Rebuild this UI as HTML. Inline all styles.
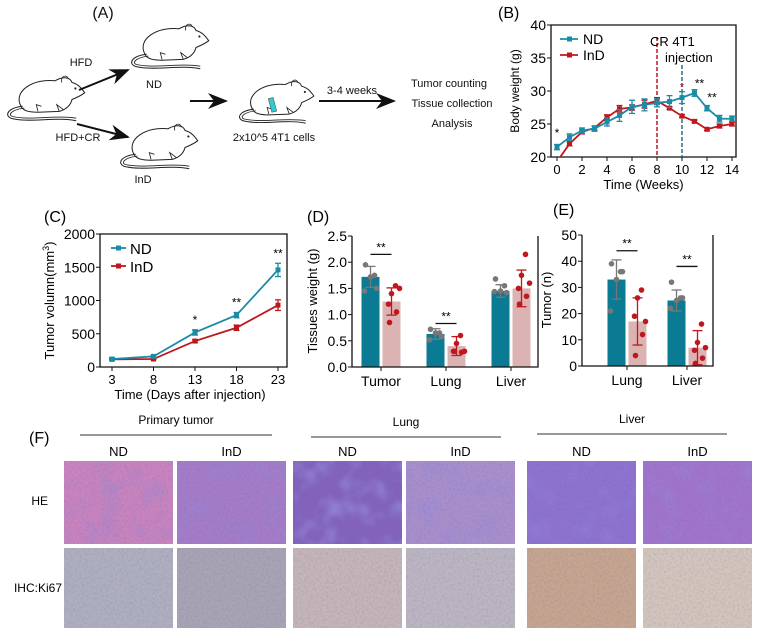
<!DOCTYPE html>
<html><head><meta charset="utf-8">
<style>
body{margin:0;background:#fff;}
svg{display:block;font-family:"Liberation Sans",Arial,sans-serif;}
</style></head>
<body>
<svg id="fig" width="777" height="630" viewBox="0 0 777 630" xmlns="http://www.w3.org/2000/svg">
<defs>
<filter id="tex" x="0" y="0" width="100%" height="100%">
<feTurbulence type="fractalNoise" baseFrequency="0.45" numOctaves="2" seed="3"/>
<feColorMatrix type="matrix" values="0 0 0 0 0.15  0 0 0 0 0.1  0 0 0 0 0.3  0 0 0 -1.8 1.1"/>
</filter>
<filter id="tex2" x="0" y="0" width="100%" height="100%">
<feTurbulence type="fractalNoise" baseFrequency="0.05" numOctaves="2" seed="7"/>
<feColorMatrix type="matrix" values="0 0 0 0 0.3  0 0 0 0 0.25  0 0 0 0 0.7  0 0 0 -2.2 1.2"/>
</filter>
<marker id="ah" markerWidth="10" markerHeight="8" refX="9" refY="4" orient="auto"><path d="M0,0 L10,4 L0,8 L3,4 Z" fill="#111"/></marker>
</defs>
<g id="panelA"></g>
<g id="panelB"></g>
<g id="panelC"></g>
<g id="panelD"></g>
<g id="panelE"></g>
<g id="panelF"></g>
</svg>
<script>
// ---------- data ----------
const bWeeks = [0,1,2,3,4,5,6,7,8,9,10,11,12,13,14];
const bND = [21.5,23,24,24.3,25.3,26.3,27.6,27.9,28.2,28.4,29,29.7,27.4,25.8,25.8];
const bNDerr = [0.4,0.5,0.4,0.4,0.6,0.9,1.0,0.9,0.6,0.9,0.9,0.5,0.4,0.5,0.4];
const bInD = [19.3,22,23.8,24.4,26,27.3,27.5,28,28.5,27.4,26.2,25.4,24.2,24.7,25];
const bInDerr = [0.3,0.3,0.3,0.3,0.4,0.5,0.4,0.6,0.5,0.2,0.2,0.2,0.2,0.3,0.3];
const bYTicks = [20,25,30,35,40];
const bXTicks = [0,2,4,6,8,10,12,14];

const cDays = [3,8,13,18,23];
const cND = [120,160,520,780,1460];
const cNDerr = [20,15,40,40,100];
const cInD = [115,120,390,590,930];
const cInDerr = [10,10,20,40,80];
const cYTicks = [0,500,1000,1500,2000];

const dCats = ["Tumor","Lung","Liver"];
const dND = [1.72,0.63,1.45];
const dNDerr = [0.2,0.1,0.12];
const dInD = [1.25,0.40,1.50];
const dInDerr = [0.26,0.18,0.35];
const dNDpts = [[1.95,1.75,1.5,1.45,1.72],[0.72,0.65,0.58,0.52,0.65],[1.68,1.55,1.42,1.44,1.45]];
const dInDpts = [[1.55,1.4,1.2,1.05,0.85,1.5],[0.6,0.45,0.3,0.28,0.3,0.3],[2.15,1.75,1.5,1.35,1.2,1.6]];
const dYTicks = [0,0.5,1.0,1.5,2.0,2.5];

const eCats = ["Lung","Liver"];
const eND = [33,25];
const eNDerr = [7.5,4];
const eInD = [17,7];
const eInDerr = [9,6.5];
const eNDpts = [[39,36,36,21,33],[32,26,26,22,25]];
const eInDpts = [[29,26,19,12,4,17],[16,9,6,3,1,7]];
const eYTicks = [0,10,20,30,40,50];

const TEAL="#1a8ca6", RED="#c0171e", BARB="#0b7a93", BARP="#dcb3b3", GREY="#777";
const NS="http://www.w3.org/2000/svg";
function mk(parent,tag,attrs,text){const e=document.createElementNS(NS,tag);for(const k in attrs)e.setAttribute(k,attrs[k]);if(text!==undefined)e.textContent=text;parent.appendChild(e);return e;}

// ---------- Panel A ----------
const A=document.getElementById('panelA');
function mouse(x,y,s,name){
  const g=mk(A,'g',{transform:`translate(${x},${y}) scale(${s})`});
  
  
  mk(g,'path',{d:"M20,38 C10,20 35,5 60,8 C70,2 78,4 80,10 C88,12 92,18 95,22 C90,26 85,28 80,30 C78,38 72,42 65,44 L40,45 C30,45 22,43 20,38 Z",fill:"#fff",stroke:"#222","stroke-width":1.2});
  mk(g,'path',{d:"M22,38 C5,40 0,48 8,52 C30,58 60,50 85,55",fill:"none",stroke:"#222","stroke-width":1.2});
  mk(g,'path',{d:"M24,40 C9,42 4,48 10,50 C32,55 60,48 85,52",fill:"none",stroke:"#222","stroke-width":1});
  mk(g,'path',{d:"M68,10 C66,2 74,0 76,6",fill:"none",stroke:"#222","stroke-width":1});
  mk(g,'circle',{cx:84,cy:17,r:1.3,fill:"#222"});
  mk(g,'path',{d:"M40,44 L38,36 L44,38 M65,44 L62,36 L70,42",fill:"none",stroke:"#222","stroke-width":1});
}
mouse(4,74,0.85,'mouse-start');
mouse(128,22,0.85,'mouse-nd');
mouse(117,122,0.85,'mouse-ind');
mouse(236,78,0.82,'mouse-injected');
mk(A,'rect',{x:270,y:98,width:5,height:14,fill:"#3cc",stroke:"#555","stroke-width":0.6,transform:"rotate(-15 272 105)"});
const aTexts=[["(A)",103,18,16,"middle"],["HFD",81,66,11,"middle"],["ND",154,88,11,"middle"],["HFD+CR",78,141,11,"middle"],["InD",143,183,11,"middle"],["2x10^5 4T1 cells",274,141,11,"middle"],["3-4 weeks",352,94,11,"middle"],["Tumor counting",449,87,11,"middle"],["Tissue collection",452,107,11,"middle"],["Analysis",452,127,11,"middle"]];
aTexts.forEach((t,i)=>{const e=mk(A,'text',{x:t[1],y:t[2],"font-size":t[3],"text-anchor":t[4],fill:"#111"},t[0]);

});
[[79,90,128,70],[77,124,128,137],[190,101,226,101],[319,101,394,101]].forEach((a,i)=>{const l=mk(A,'line',{x1:a[0],y1:a[1],x2:a[2],y2:a[3],stroke:"#111","stroke-width":2,"marker-end":"url(#ah)"});

});

// ---------- generic helpers ----------
function axesBox(g,x0,y0,x1,y1){mk(g,'path',{d:`M${x0},${y0} L${x0},${y1} L${x1},${y1} L${x1},${y0} Z`,fill:"none",stroke:"#111","stroke-width":1.3});}
function errbar(g,x,y1,y2,col,w){mk(g,'line',{x1:x,y1:y1,x2:x,y2:y2,stroke:col,"stroke-width":1.3});mk(g,'line',{x1:x-w,y1:y1,x2:x+w,y2:y1,stroke:col,"stroke-width":1.3});mk(g,'line',{x1:x-w,y1:y2,x2:x+w,y2:y2,stroke:col,"stroke-width":1.3});}

// ---------- Panel B ----------
(function(){
const g=document.getElementById('panelB');
const X0=551,X1=736,Y0=25,Y1=157;
const x=w=>557+w*12.5, y=v=>Y1-(v-20)/20*(Y1-Y0);
mk(g,'text',{x:498,y:18,"font-size":16},"(B)");
axesBox(g,X0,Y0,X1,Y1);
bYTicks.forEach(t=>{mk(g,'line',{x1:X0-4,y1:y(t),x2:X0,y2:y(t),stroke:"#111"});const e=mk(g,'text',{x:X0-5,y:y(t)+5,"font-size":14,"text-anchor":"end"},t);

});
bXTicks.forEach(t=>{mk(g,'line',{x1:x(t),y1:Y1,x2:x(t),y2:Y1+4,stroke:"#111"});const e=mk(g,'text',{x:x(t),y:Y1+17,"font-size":13,"text-anchor":"middle"},t);

});
const yl=mk(g,'text',{x:0,y:0,"font-size":12,"text-anchor":"middle",transform:`translate(519,${(Y0+Y1)/2}) rotate(-90)`},"Body weight (g)");


const xl=mk(g,'text',{x:(X0+X1)/2,y:189,"font-size":13,"text-anchor":"middle"},"Time (Weeks)");


mk(g,'line',{x1:x(8),y1:Y0+12,x2:x(8),y2:Y1,stroke:RED,"stroke-width":1.5,"stroke-dasharray":"4,2"});
mk(g,'line',{x1:x(10),y1:Y0+40,x2:x(10),y2:Y1,stroke:"#2a6f8c","stroke-width":1.5,"stroke-dasharray":"4,2"});
mk(g,'text',{x:650,y:46,"font-size":13},"CR 4T1");
mk(g,'text',{x:665,y:62,"font-size":13},"injection");
const defs=document.querySelector('defs');
const cpth=mk(defs,'clipPath',{id:'bclip'});mk(cpth,'rect',{x:X0,y:Y0,width:X1-X0,height:Y1-Y0});
[[bInD,bInDerr,RED,'ind'],[bND,bNDerr,TEAL,'nd']].forEach(s=>{
 const sg=mk(g,'g',{"clip-path":"url(#bclip)"});
 
 
 mk(sg,'polyline',{points:bWeeks.map((w,i)=>x(w)+","+y(s[0][i])).join(" "),fill:"none",stroke:s[2],"stroke-width":1.8});
 bWeeks.forEach((w,i)=>{errbar(sg,x(w),y(s[0][i]+s[1][i]),y(s[0][i]-s[1][i]),s[2],3);const p=mk(sg,'rect',{x:x(w)-2.5,y:y(s[0][i])-2.5,width:5,height:5,fill:s[2]});
 
 });
});
[[0,23.8,"*"],[11,31.3,"**"],[12,29.2,"**"]].forEach(s=>mk(g,'text',{x:x(s[0])+(s[0]>10?5:0),y:y(s[1])+5,"font-size":12,"text-anchor":"middle"},s[2]));
mk(g,'text',{x:x(10),y:y(31)+6,"font-size":11,"text-anchor":"middle",fill:RED},"*");
[[TEAL,"ND",39],[RED,"InD",55]].forEach(l=>{const lg=mk(g,'g',{});


mk(lg,'line',{x1:560,y1:l[2],x2:578,y2:l[2],stroke:l[0],"stroke-width":1.8});mk(lg,'rect',{x:567,y:l[2]-2.5,width:5,height:5,fill:l[0]});mk(lg,'text',{x:583,y:l[2]+5,"font-size":14},l[1]);});
})();

// ---------- Panel C ----------
(function(){
const g=document.getElementById('panelC');
const X0=100,X1=287,Y0=234,Y1=367;
const x=i=>112+i*(278-112)/4, y=v=>Y1-v/2000*(Y1-Y0);
mk(g,'text',{x:44,y:222,"font-size":16},"(C)");
axesBox(g,X0,Y0,X1,Y1);
cYTicks.forEach(t=>{mk(g,'line',{x1:X0-4,y1:y(t),x2:X0,y2:y(t),stroke:"#111"});const e=mk(g,'text',{x:X0-5,y:y(t)+5,"font-size":14,"text-anchor":"end"},t);

});
cDays.forEach((d,i)=>{mk(g,'line',{x1:x(i),y1:Y1,x2:x(i),y2:Y1+4,stroke:"#111"});const e=mk(g,'text',{x:x(i),y:Y1+17,"font-size":13,"text-anchor":"middle"},d);

});
const yl=mk(g,'text',{x:0,y:0,"font-size":13,"text-anchor":"middle",transform:`translate(54,${(Y0+Y1)/2}) rotate(-90)`});


yl.innerHTML='Tumor volumn(mm<tspan dy="-5" font-size="9">3</tspan><tspan dy="5">)</tspan>';
const xl=mk(g,'text',{x:190,y:399,"font-size":13,"text-anchor":"middle"},"Time (Days after injection)");


[[cInD,cInDerr,RED,'ind'],[cND,cNDerr,TEAL,'nd']].forEach(s=>{
 const sg=mk(g,'g',{});
 
 
 mk(sg,'polyline',{points:cDays.map((d,i)=>x(i)+","+y(s[0][i])).join(" "),fill:"none",stroke:s[2],"stroke-width":1.8});
 cDays.forEach((d,i)=>{errbar(sg,x(i),y(s[0][i]+s[1][i]),y(s[0][i]-s[1][i]),s[2],3);const p=mk(sg,'rect',{x:x(i)-2.5,y:y(s[0][i])-2.5,width:5,height:5,fill:s[2]});
 
 });
});
[[2,"*"],[3,"**"],[4,"**"]].forEach(s=>mk(g,'text',{x:x(s[0]),y:y(cND[s[0]]+cNDerr[s[0]])-6,"font-size":12,"text-anchor":"middle"},s[1]));
[[TEAL,"ND",248],[RED,"InD",266]].forEach(l=>{const lg=mk(g,'g',{});


mk(lg,'line',{x1:111,y1:l[2],x2:126,y2:l[2],stroke:l[0],"stroke-width":1.8});mk(lg,'rect',{x:116,y:l[2]-2.5,width:5,height:5,fill:l[0]});mk(lg,'text',{x:130,y:l[2]+6,"font-size":15},l[1]);});
})();

// ---------- bar chart helper ----------
function barChart(g,cfg){
 const {X0,X1,Y0,Y1,max,ticks,cats,nd,ndE,ind,indE,ndPts,indPts,groupX,prefix,sigY}=cfg;
 const y=v=>Y1-v/max*(Y1-Y0);
 const bw=18;
 ticks.forEach(t=>{mk(g,'line',{x1:X0-4,y1:y(t),x2:X0,y2:y(t),stroke:"#111"});const e=mk(g,'text',{x:X0-5,y:y(t)+5,"font-size":14,"text-anchor":"end"},cfg.fmt(t));
 
 });
 cats.forEach((c,i)=>{
  const cx=groupX(i);
  const xn=cx-bw-1.5, xi=cx+1.5;
  const b1=mk(g,'rect',{x:xn,y:y(nd[i]),width:bw,height:Y1-y(nd[i]),fill:BARB});
  
  
  const b2=mk(g,'rect',{x:xi,y:y(ind[i]),width:bw,height:Y1-y(ind[i]),fill:BARP});
  
  
  errbar(g,xn+bw/2,y(nd[i]+ndE[i]),y(nd[i]-ndE[i]),GREY,5);
  errbar(g,xi+bw/2,y(ind[i]+indE[i]),y(ind[i]-indE[i]),RED,5);
  ndPts[i].forEach((v,j)=>mk(g,'circle',{cx:xn+bw/2+[-5,4,6,-6,0,2][j],cy:y(v),r:2.8,fill:GREY}));
  indPts[i].forEach((v,j)=>mk(g,'circle',{cx:xi+bw/2+[4,0,-3,5,-2,8][j],cy:y(v),r:2.8,fill:RED}));
  mk(g,'line',{x1:cx,y1:Y1,x2:cx,y2:Y1+4,stroke:"#111"});
  const e=mk(g,'text',{x:cx,y:Y1+19,"font-size":14,"text-anchor":"middle"},c);
  
  
  if(sigY[i]!==null){mk(g,'line',{x1:xn+bw/2,y1:y(sigY[i]),x2:xi+bw/2,y2:y(sigY[i]),stroke:"#111","stroke-width":1.3});mk(g,'text',{x:cx,y:y(sigY[i])-3,"font-size":12,"text-anchor":"middle"},"**");}
 });
 mk(g,'path',{d:`M${X0},${Y0} L${X0},${Y1} L${X1},${Y1} L${X1},${Y0}`,fill:"none",stroke:"#111","stroke-width":1.3});
}

// ---------- Panel D ----------
(function(){
const g=document.getElementById('panelD');
mk(g,'text',{x:307,y:222,"font-size":16},"(D)");
barChart(g,{X0:352,X1:538,Y0:236,Y1:367,max:2.5,ticks:dYTicks,cats:dCats,nd:dND,ndE:dNDerr,ind:dInD,indE:dInDerr,ndPts:dNDpts,indPts:dInDpts,groupX:i=>381+i*65,prefix:'d',sigY:[2.15,0.83,null],fmt:t=>t.toFixed(1)});
const yl=mk(g,'text',{x:0,y:0,"font-size":13,"text-anchor":"middle",transform:"translate(317,301) rotate(-90)"},"Tissues weight (g)");


})();

// ---------- Panel E ----------
(function(){
const g=document.getElementById('panelE');
mk(g,'text',{x:553,y:215,"font-size":16},"(E)");
barChart(g,{X0:582,X1:713,Y0:235,Y1:366,max:50,ticks:eYTicks,cats:eCats,nd:eND,ndE:eNDerr,ind:eInD,indE:eInDerr,ndPts:eNDpts,indPts:eInDpts,groupX:i=>627+i*60,prefix:'e',sigY:[44,38,null],fmt:t=>t});
const yl=mk(g,'text',{x:0,y:0,"font-size":13,"text-anchor":"middle",transform:"translate(551,300) rotate(-90)"},"Tumor (n)");


})();

// ---------- Panel F ----------
(function(){
const g=document.getElementById('panelF');
mk(g,'text',{x:29,y:443,"font-size":16},"(F)");
[["Primary tumor",80,272,424,435],["Lung",311,501,426,437],["Liver",537,727,423,434]].forEach(h=>{
 const e=mk(g,'text',{x:(h[1]+h[2])/2,y:h[3],"font-size":12,"text-anchor":"middle"},h[0]);
 
 
 mk(g,'line',{x1:h[1],y1:h[4],x2:h[2],y2:h[4],stroke:"#333","stroke-width":1});
});
const cols=[64,177,293,406,527,643], w=109;
const colLab=["ND","InD","ND","InD","ND","InD"];
cols.forEach((c,i)=>mk(g,'text',{x:c+w/2,y:456,"font-size":13,"text-anchor":"middle"},colLab[i]));
mk(g,'text',{x:48,y:505,"font-size":12,"text-anchor":"end"},"HE");
mk(g,'text',{x:62,y:592,"font-size":12,"text-anchor":"end"},"IHC:Ki67");
const heCol=["#c884be","#a57cc8","#8363bd","#a990cc","#8e72d0","#a174cc"];
const kiCol=["#aeb0c0","#a9a4b4","#c4b6b8","#bcb6c2","#c6a690","#d3c6bc"];
cols.forEach((c,i)=>{
 [[461,83,heCol[i],'he'],[548,80,kiCol[i],'ki67']].forEach(r=>{
  const im=mk(g,'g',{});
  
  
  mk(im,'rect',{x:c,y:r[0],width:w,height:r[1],fill:r[2]});
  if(r[3]==='he') mk(im,'rect',{x:c,y:r[0],width:w,height:r[1],filter:"url(#tex2)",opacity:i===2?0.9:0.45});
  mk(im,'rect',{x:c,y:r[0],width:w,height:r[1],filter:"url(#tex)",opacity:0.2});
 });
});
})();
</script>
</body></html>
